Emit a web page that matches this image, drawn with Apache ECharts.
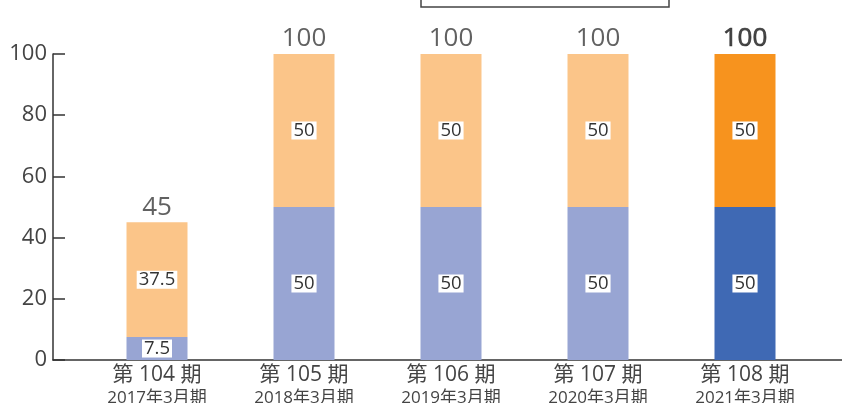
<!DOCTYPE html>
<html><head><meta charset="utf-8">
<script src="https://cdn.jsdelivr.net/npm/echarts@6/dist/echarts.min.js"></script>
<style>html,body{margin:0;padding:0;background:#fff}#c{width:842px;height:403px}</style>
</head><body><div id="c"></div>
<script>
const periods = ["第 104 期", "第 105 期", "第 106 期", "第 107 期", "第 108 期"];
const fiscal = ["2017年3月期", "2018年3月期", "2019年3月期", "2020年3月期", "2021年3月期"];
const lowerValues = [7.5, 50, 50, 50, 50];
const upperValues = [37.5, 50, 50, 50, 50];
const totals = [45, 100, 100, 100, 100];
const yTicks = [0, 20, 40, 60, 80, 100];

const FONT = '"Open Sans", "Noto Sans CJK JP", sans-serif';
const lightBlue = '#98A5D3', lightOrange = '#FBC589', darkBlue = '#3F69B4', darkOrange = '#F7931E';
const last = periods.length - 1;

const inner = {show: true, position: 'inside', color: '#333', fontSize: 18.5, fontFamily: FONT,
  backgroundColor: '#fff', padding: [0, 2, 0, 2], lineHeight: 18};

const chart = echarts.init(document.getElementById('c'));
chart.setOption({
  animation: false,
  textStyle: {fontFamily: FONT},
  grid: [
    {left: 53, right: 0, top: 54, bottom: 43, containLabel: false, outerBoundsMode: 'none'},
    {left: 83.5, width: 735, top: 54, bottom: 43, containLabel: false, outerBoundsMode: 'none'}
  ],
  xAxis: [
    {gridIndex: 0, type: 'category', data: periods, axisLine: {lineStyle: {color: '#333', width: 1.5}},
     axisTick: {show: false}, axisLabel: {show: false}},
    {gridIndex: 1, type: 'category', data: periods, axisLine: {show: false}, axisTick: {show: false},
     axisLabel: {margin: 4, formatter: (v, i) => '{a|' + v + '}\n{b|' + fiscal[i] + '}',
       rich: {a: {fontSize: 21, color: '#444', lineHeight: 23, fontFamily: FONT},
              b: {fontSize: 17, color: '#444', lineHeight: 22, fontFamily: FONT}}}}
  ],
  yAxis: [
    {gridIndex: 0, type: 'value', min: yTicks[0], max: yTicks[yTicks.length - 1], interval: 20,
     axisLine: {show: true, lineStyle: {color: '#333', width: 1.5}},
     axisTick: {show: true, inside: true, length: 12, lineStyle: {color: '#333', width: 1.5}},
     splitLine: {show: false},
     axisLabel: {fontSize: 22, color: '#444', margin: 6, fontFamily: FONT}},
    {gridIndex: 1, type: 'value', min: 0, max: 100, show: false, splitLine: {show: false}}
  ],
  series: [
    {type: 'bar', xAxisIndex: 1, yAxisIndex: 1, stack: 's', barWidth: 61,
     data: lowerValues.map((v, i) => ({value: v, itemStyle: {color: i === last ? darkBlue : lightBlue}})),
     label: inner},
    {type: 'bar', xAxisIndex: 1, yAxisIndex: 1, stack: 's', barWidth: 61,
     data: upperValues.map((v, i) => ({value: v, itemStyle: {color: i === last ? darkOrange : lightOrange}})),
     label: inner},
    {type: 'scatter', xAxisIndex: 1, yAxisIndex: 1, symbolSize: 0, silent: true,
     data: totals.map((v, i) => ({value: v, label: i === last
       ? {color: '#1a1a1a', textBorderColor: '#1a1a1a', textBorderWidth: 0.7}
       : {color: '#3a3a3a'}})),
     label: {show: true, position: 'top', distance: 2, fontSize: 26, fontFamily: FONT}}
  ],
  graphic: [
    {type: 'rect', shape: {x: 421, y: -10, width: 248, height: 17}, style: {fill: '#fff', stroke: '#444', lineWidth: 1.5}}
  ]
});
</script></body></html>
